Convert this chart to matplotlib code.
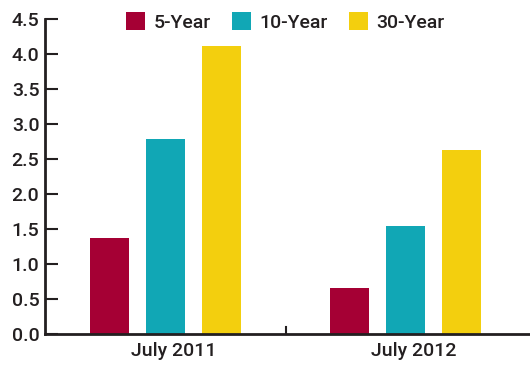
import matplotlib
matplotlib.use("Agg")
import matplotlib.pyplot as plt
import matplotlib.transforms as mtransforms
import numpy as np
from matplotlib.patches import Patch

categories = ["July 2011", "July 2012"]
series_names = ["5-Year", "10-Year", "30-Year"]
values_5y = [1.37, 0.66]
values_10y = [2.79, 1.54]
values_30y = [4.11, 2.63]
yticks = [0.0, 0.5, 1.0, 1.5, 2.0, 2.5, 3.0, 3.5, 4.0, 4.5]

colors = ["#A50034", "#11A7B5", "#F3CF0E"]
text_color = "#231F20"
plt.rcParams['font.family'] = ["Roboto", "DejaVu Sans"]
plt.rcParams['font.weight'] = 'medium'
fs = 14

fig = plt.figure(figsize=(5.30, 3.68), dpi=100)
ax = fig.add_axes([45/530, 1-334/368, 1-45/530, (334-19)/368])

x = np.arange(len(categories))
width = 0.1625
offset = 0.2333
for i, (vals, c) in enumerate(zip([values_5y, values_10y, values_30y], colors)):
    ax.bar(x + (i-1)*offset, vals, width=width, color=c, zorder=2)

ax.set_xlim(-0.503, 1.518)
ax.set_ylim(0, 4.5)
ax.set_yticks(yticks)
ax.set_yticklabels([f"{v:.1f}" for v in yticks], fontsize=fs, color=text_color, fontweight='medium')
ax.tick_params(axis='y', direction='in', length=9, width=1.5, color=text_color, pad=4)
ax.set_xticks(x)
ax.set_xticklabels(categories, fontsize=fs, color=text_color, fontweight='medium')
ax.tick_params(axis='x', length=0, pad=6)
shift = mtransforms.ScaledTranslation(8/100, 0, fig.dpi_scale_trans)
for lab in ax.get_xticklabels():
    lab.set_transform(lab.get_transform() + shift)
# group separator tick
ax.plot([0.5, 0.5], [0, 0.1], color=text_color, lw=1.5, clip_on=False, zorder=3)

for s in ["top", "right"]:
    ax.spines[s].set_visible(False)
for s in ["left", "bottom"]:
    ax.spines[s].set_linewidth(2)
    ax.spines[s].set_color(text_color)

handles = [Patch(facecolor=c, edgecolor='none') for c in colors]
leg = fig.legend(handles, series_names, loc='center', bbox_to_anchor=(285/530, 1-22/368),
                 ncol=3, frameon=False, prop={'size': fs, 'weight': 'medium'},
                 handlelength=1.0, handleheight=1.0,
                 handletextpad=0.4, columnspacing=1.1, borderpad=0)
for t in leg.get_texts():
    t.set_color(text_color)

fig.savefig("out.png", dpi=100)
